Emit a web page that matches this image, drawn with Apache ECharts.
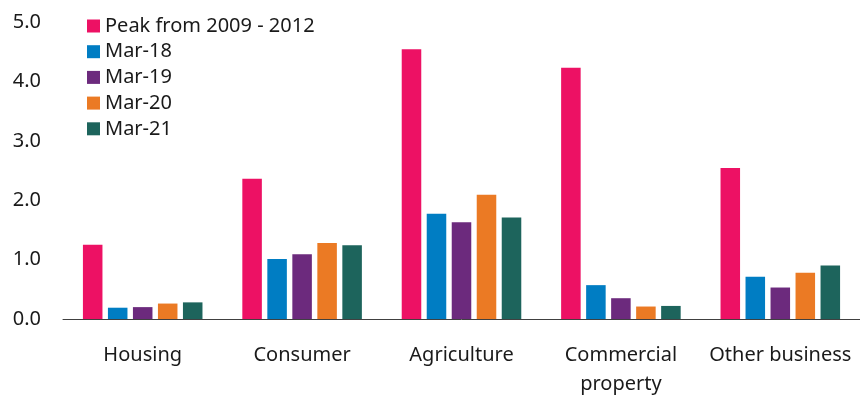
<!DOCTYPE html>
<html>
<head>
<meta charset="utf-8">
<script src="https://cdn.jsdelivr.net/npm/echarts@6/dist/echarts.min.js"></script>
<style>
html,body{margin:0;padding:0;background:#fff;}
#root{width:860px;height:399px;}
</style>
</head>
<body>
<div id="root"></div>
<script>
var categories=["Housing","Consumer","Agriculture","Commercial\nproperty","Other business"];
var seriesNames=["Peak from 2009 - 2012","Mar-18","Mar-19","Mar-20","Mar-21"];
var peak=[1.25,2.36,4.54,4.23,2.54];
var mar18=[0.19,1.01,1.77,0.57,0.71];
var mar19=[0.20,1.09,1.63,0.35,0.53];
var mar20=[0.26,1.28,2.09,0.21,0.78];
var mar21=[0.28,1.24,1.71,0.22,0.90];
var colors=["#ED1164","#007DC3","#6C2A7D","#EB7A24","#1D645C"];

var chart=echarts.init(document.getElementById("root"),null,{renderer:"canvas"});
var values=[peak,mar18,mar19,mar20,mar21];
var series=values.map(function(v,i){
    return {
        name:seriesNames[i],
        type:"bar",
        data:v,
        barGap:"28%",
        barCategoryGap:"25%",
        itemStyle:{color:colors[i]}
    };
});
var font='"Noto Sans", sans-serif';
var option={
    animation:false,
    color:colors,
    textStyle:{fontFamily:font},
    legend:{
        orient:"vertical",
        left:82,
        top:11,
        itemWidth:13,
        itemHeight:13,
        itemGap:5.7,
        icon:"rect",
        textStyle:{fontFamily:font,fontSize:20,color:"#1a1a1a",lineHeight:20}
    },
    grid:{left:63,top:22,width:800,height:303,containLabel:false},
    xAxis:{
        type:"category",
        data:categories,
        axisLine:{lineStyle:{color:"#404040",width:1}},
        axisTick:{show:false},
        axisLabel:{fontFamily:font,fontSize:20,color:"#1a1a1a",margin:22,lineHeight:29,interval:0}
    },
    yAxis:{
        type:"value",
        min:0,max:5,interval:1,
        axisLine:{show:false},
        axisTick:{show:false},
        splitLine:{show:false},
        axisLabel:{fontFamily:font,fontSize:20,color:"#1a1a1a",margin:22,formatter:function(v){return v.toFixed(1);}}
    },
    series:series
};
chart.setOption(option);
</script>
</body>
</html>
